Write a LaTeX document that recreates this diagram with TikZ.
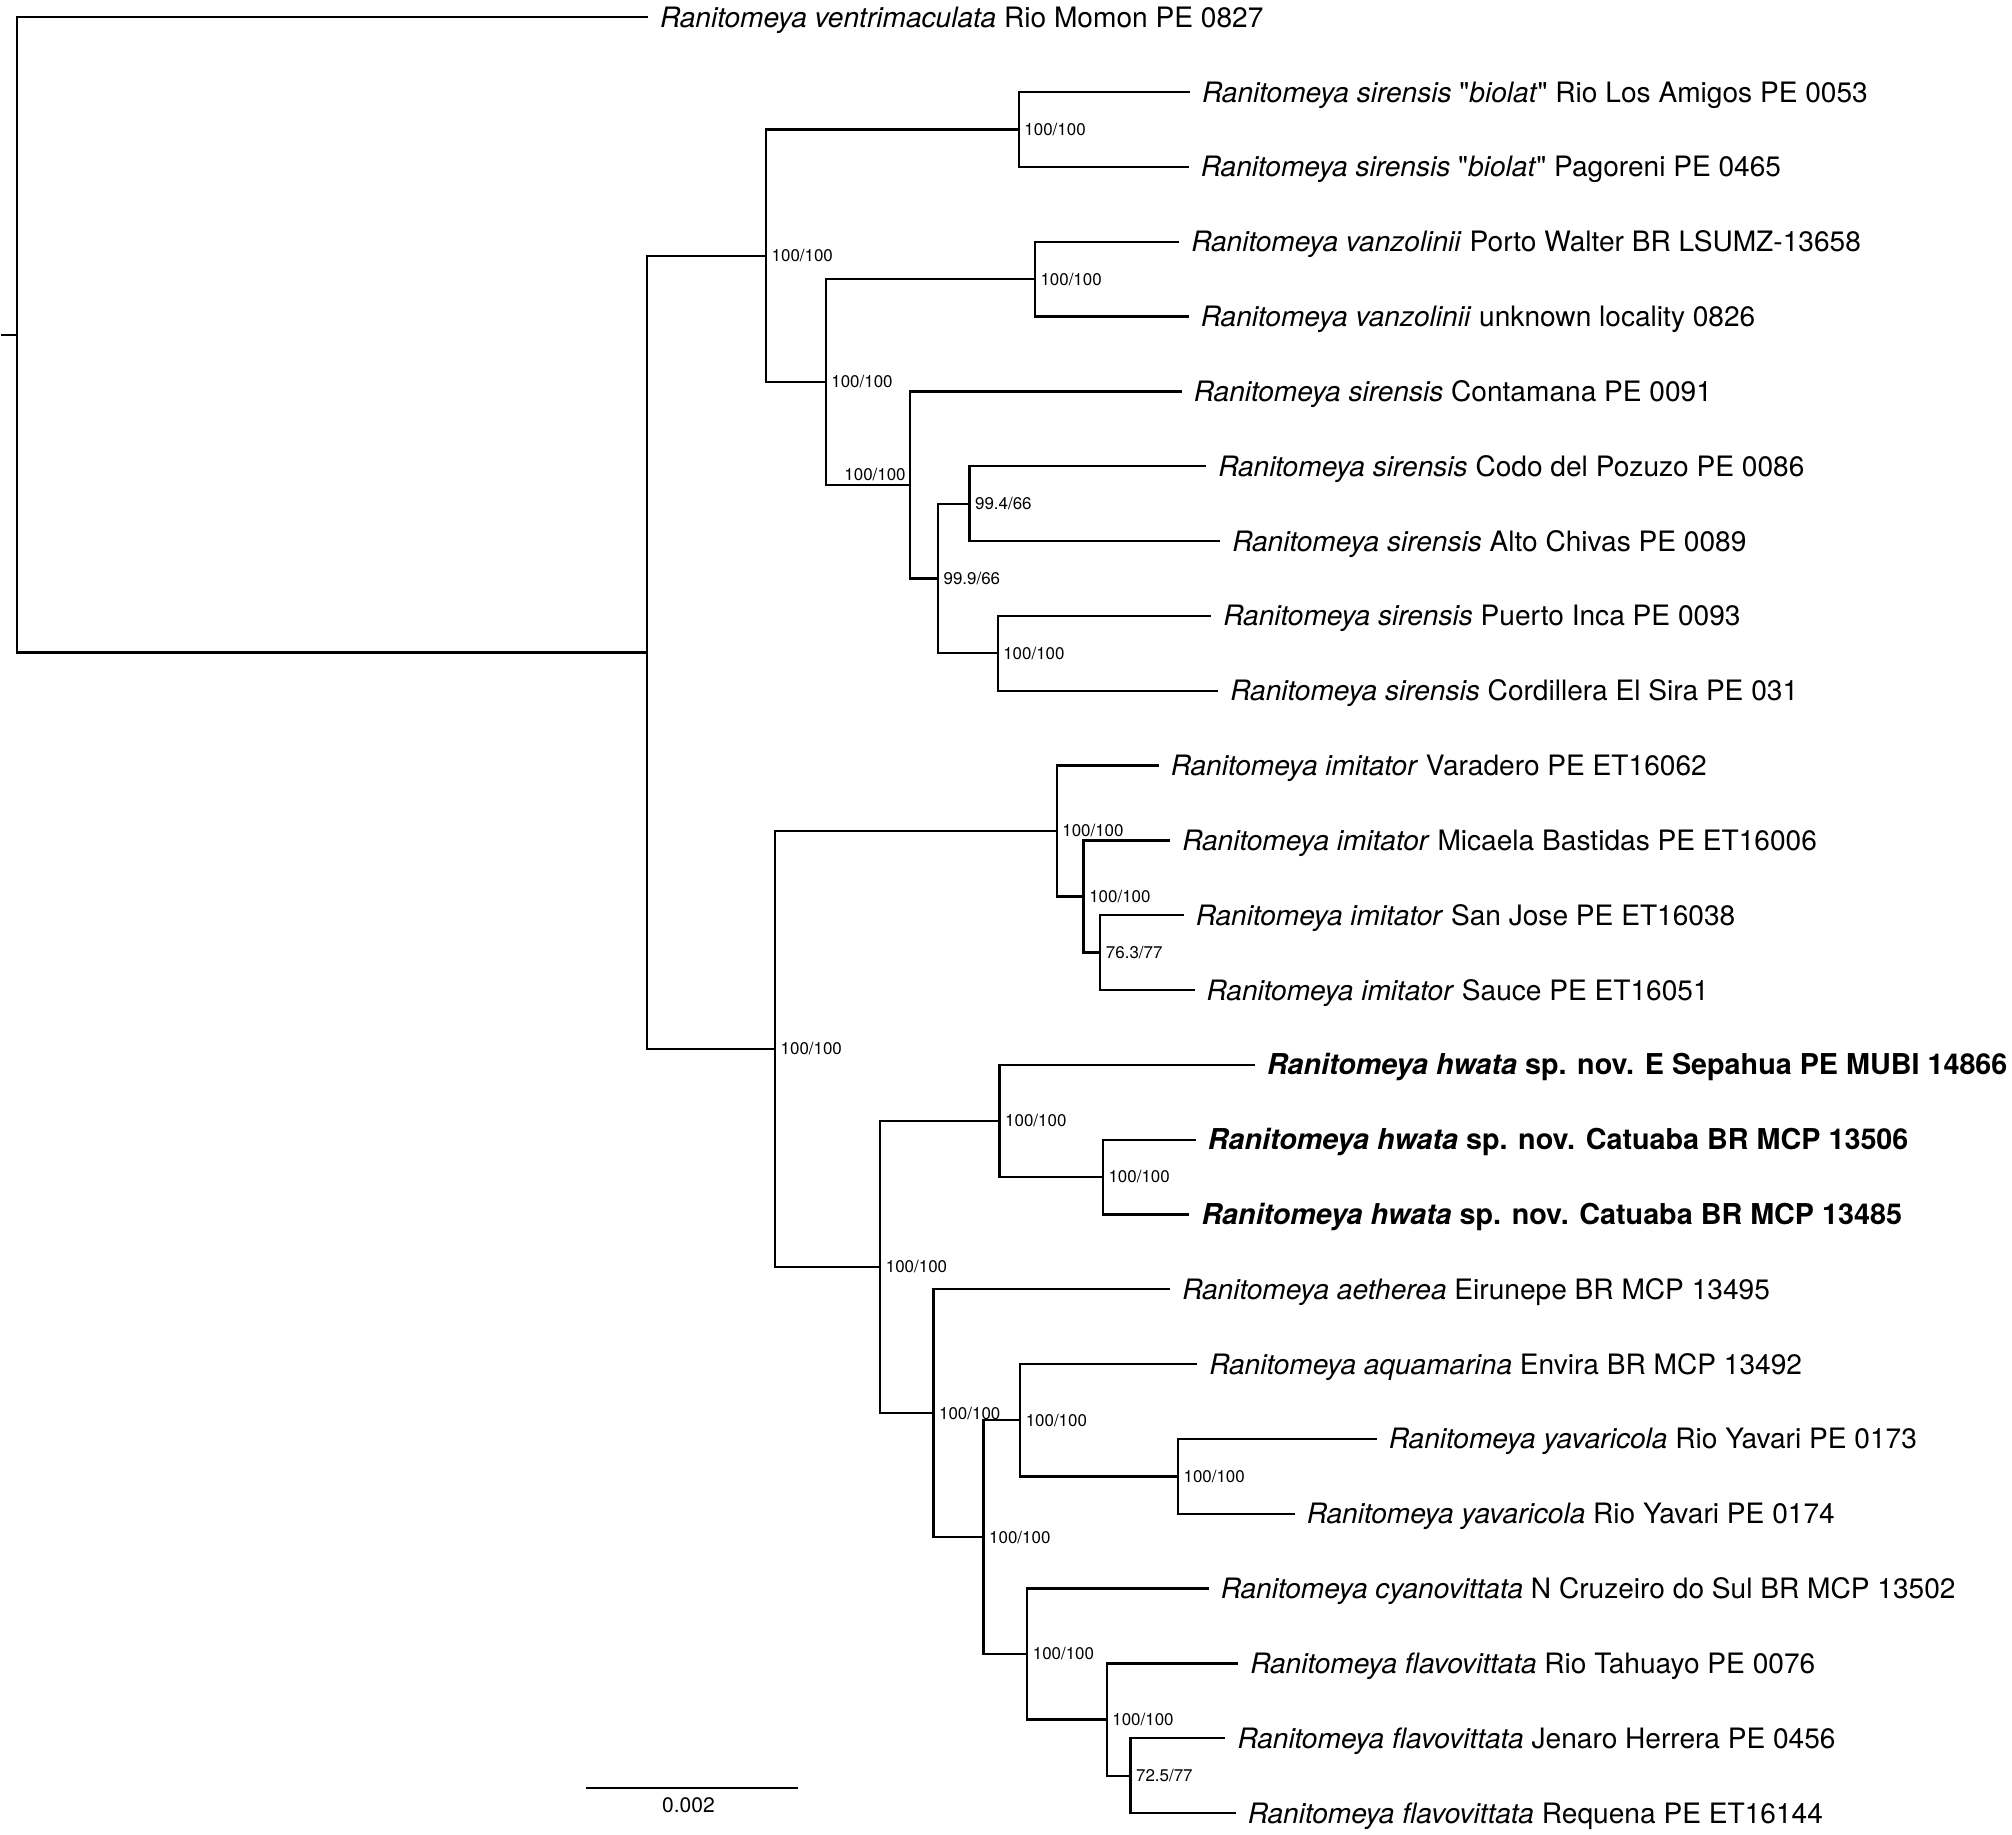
\documentclass[tikz,border=0pt]{standalone}
\usepackage{fontspec}
\setmainfont{TeX Gyre Heros}[Ligatures=TeXOff]
\begin{document}
\begin{tikzpicture}[x=0.5pt,y=-0.5pt,
  branch/.style={line width=0.9pt, line cap=rect},
  leaflbl/.style={anchor=base west, inner sep=0pt, yshift=-3.9pt, font=\fontsize{10.95}{12}\selectfont},
  hwlbl/.style={leaflbl, font=\fontsize{11.2}{12}\selectfont\bfseries},
  suplbl/.style={anchor=base west, inner sep=0pt, xshift=2pt, yshift=-2.3pt, font=\fontsize{6.6}{8}\selectfont},
  scalelbl/.style={anchor=base, inner sep=0pt, font=\fontsize{8.2}{10}\selectfont}]
\useasboundingbox (0,0) rectangle (1568,1430);
% ---- leaf tips
\coordinate (t1) at (504,13.5);
\coordinate (t2) at (926.5,71.81);
\coordinate (t3) at (925.5,130.12);
\coordinate (t4) at (918,188.43);
\coordinate (t5) at (925.5,246.74);
\coordinate (t6) at (920,305.05);
\coordinate (t7) at (939,363.36);
\coordinate (t8) at (950,421.67);
\coordinate (t9) at (943,479.98);
\coordinate (t10) at (948.5,538.29);
\coordinate (t11) at (902,596.6);
\coordinate (t12) at (911,654.91);
\coordinate (t13) at (921.5,713.22);
\coordinate (t14) at (930,771.53);
\coordinate (t15) at (977,829.84);
\coordinate (t16) at (931,888.15);
\coordinate (t17) at (926,946.46);
\coordinate (t18) at (911,1004.77);
\coordinate (t19) at (932,1063.08);
\coordinate (t20) at (1072,1121.39);
\coordinate (t21) at (1008,1179.7);
\coordinate (t22) at (941,1238.01);
\coordinate (t23) at (964,1296.32);
\coordinate (t24) at (954,1354.63);
\coordinate (t25) at (962,1412.94);
% ---- internal nodes
\coordinate (stub) at (1.7,260.98);
\coordinate (R) at (13,260.98);
\coordinate (A) at (504,508.46);
\coordinate (B) at (597,199.37);
\coordinate (C) at (794,100.97);
\coordinate (D) at (643.5,297.77);
\coordinate (E) at (806.5,217.59);
\coordinate (F) at (709,377.94);
\coordinate (G) at (731,450.83);
\coordinate (H) at (755.5,392.52);
\coordinate (I) at (777.5,509.14);
\coordinate (M) at (604,817.54);
\coordinate (J) at (823.5,647.62);
\coordinate (K) at (844.5,698.65);
\coordinate (L) at (857.5,742.38);
\coordinate (P) at (686,987.46);
\coordinate (N) at (779,873.58);
\coordinate (O) at (859.5,917.31);
\coordinate (Q) at (727.5,1101.35);
\coordinate (X) at (766.5,1197.92);
\coordinate (S) at (795,1106.81);
\coordinate (T) at (918,1150.55);
\coordinate (U) at (800.5,1289.03);
\coordinate (V) at (862.5,1340.05);
\coordinate (W) at (881,1383.79);
% ---- branches
\draw[branch] (stub) -- (R);
\draw[branch] (t1) -| (R) |- (A);
\draw[branch] (B) -| (A) |- (M);
\draw[branch] (C) -| (B) |- (D);
\draw[branch] (t2) -| (C) |- (t3);
\draw[branch] (E) -| (D) |- (F);
\draw[branch] (t4) -| (E) |- (t5);
\draw[branch] (t6) -| (F) |- (G);
\draw[branch] (H) -| (G) |- (I);
\draw[branch] (t7) -| (H) |- (t8);
\draw[branch] (t9) -| (I) |- (t10);
\draw[branch] (J) -| (M) |- (P);
\draw[branch] (t11) -| (J) |- (K);
\draw[branch] (t12) -| (K) |- (L);
\draw[branch] (t13) -| (L) |- (t14);
\draw[branch] (N) -| (P) |- (Q);
\draw[branch] (t15) -| (N) |- (O);
\draw[branch] (t16) -| (O) |- (t17);
\draw[branch] (t18) -| (Q) |- (X);
\draw[branch] (S) -| (X) |- (U);
\draw[branch] (t19) -| (S) |- (T);
\draw[branch] (t20) -| (T) |- (t21);
\draw[branch] (t22) -| (U) |- (V);
\draw[branch] (t23) -| (V) |- (W);
\draw[branch] (t24) -| (W) |- (t25);
% ---- leaf labels
\node[leaflbl] (l1) at ([xshift=5pt]t1) {\textit{Ranitomeya ventrimaculata} Rio Momon PE 0827};
\node[leaflbl] (l2) at ([xshift=5pt]t2) {\textit{Ranitomeya sirensis} "\textit{biolat}" Rio Los Amigos PE 0053};
\node[leaflbl] (l3) at ([xshift=5pt]t3) {\textit{Ranitomeya sirensis} "\textit{biolat}" Pagoreni PE 0465};
\node[leaflbl] (l4) at ([xshift=5pt]t4) {\textit{Ranitomeya vanzolinii} Porto Walter BR LSUMZ-13658};
\node[leaflbl] (l5) at ([xshift=5pt]t5) {\textit{Ranitomeya vanzolinii} unknown locality 0826};
\node[leaflbl] (l6) at ([xshift=5pt]t6) {\textit{Ranitomeya sirensis} Contamana PE 0091};
\node[leaflbl] (l7) at ([xshift=5pt]t7) {\textit{Ranitomeya sirensis} Codo del Pozuzo PE 0086};
\node[leaflbl] (l8) at ([xshift=5pt]t8) {\textit{Ranitomeya sirensis} Alto Chivas PE 0089};
\node[leaflbl] (l9) at ([xshift=5pt]t9) {\textit{Ranitomeya sirensis} Puerto Inca PE 0093};
\node[leaflbl] (l10) at ([xshift=5pt]t10) {\textit{Ranitomeya sirensis} Cordillera El Sira PE 031};
\node[leaflbl] (l11) at ([xshift=5pt]t11) {\textit{Ranitomeya imitator} Varadero PE ET16062};
\node[leaflbl] (l12) at ([xshift=5pt]t12) {\textit{Ranitomeya imitator} Micaela Bastidas PE ET16006};
\node[leaflbl] (l13) at ([xshift=5pt]t13) {\textit{Ranitomeya imitator} San Jose PE ET16038};
\node[leaflbl] (l14) at ([xshift=5pt]t14) {\textit{Ranitomeya imitator} Sauce PE ET16051};
\node[hwlbl] (l15) at ([xshift=5pt]t15) {\textit{Ranitomeya hwata} sp. nov. E Sepahua PE MUBI 14866};
\node[hwlbl] (l16) at ([xshift=5pt]t16) {\textit{Ranitomeya hwata} sp. nov. Catuaba BR MCP 13506};
\node[hwlbl] (l17) at ([xshift=5pt]t17) {\textit{Ranitomeya hwata} sp. nov. Catuaba BR MCP 13485};
\node[leaflbl] (l18) at ([xshift=5pt]t18) {\textit{Ranitomeya aetherea} Eirunepe BR MCP 13495};
\node[leaflbl] (l19) at ([xshift=5pt]t19) {\textit{Ranitomeya aquamarina} Envira BR MCP 13492};
\node[leaflbl] (l20) at ([xshift=5pt]t20) {\textit{Ranitomeya yavaricola} Rio Yavari PE 0173};
\node[leaflbl] (l21) at ([xshift=5pt]t21) {\textit{Ranitomeya yavaricola} Rio Yavari PE 0174};
\node[leaflbl] (l22) at ([xshift=5pt]t22) {\textit{Ranitomeya cyanovittata} N Cruzeiro do Sul BR MCP 13502};
\node[leaflbl] (l23) at ([xshift=5pt]t23) {\textit{Ranitomeya flavovittata} Rio Tahuayo PE 0076};
\node[leaflbl] (l24) at ([xshift=5pt]t24) {\textit{Ranitomeya flavovittata} Jenaro Herrera PE 0456};
\node[leaflbl] (l25) at ([xshift=5pt]t25) {\textit{Ranitomeya flavovittata} Requena PE ET16144};
% ---- support labels
\node[suplbl] (sB) at (B) {100/100};
\node[suplbl] (sC) at (C) {100/100};
\node[suplbl] (sD) at (D) {100/100};
\node[suplbl] (sE) at (E) {100/100};
\node[anchor=base east, inner sep=0pt, xshift=-1.4pt, yshift=1.7pt, font=\fontsize{6.6}{8}\selectfont] (sF) at (F) {100/100};
\node[suplbl] (sG) at (G) {99.9/66};
\node[suplbl] (sH) at (H) {99.4/66};
\node[suplbl] (sI) at (I) {100/100};
\node[suplbl] (sM) at (M) {100/100};
\node[suplbl] (sJ) at (J) {100/100};
\node[suplbl] (sK) at (K) {100/100};
\node[suplbl] (sL) at (L) {76.3/77};
\node[suplbl] (sP) at (P) {100/100};
\node[suplbl] (sN) at (N) {100/100};
\node[suplbl] (sO) at (O) {100/100};
\node[suplbl] (sQ) at (Q) {100/100};
\node[suplbl] (sX) at (X) {100/100};
\node[suplbl] (sS) at (S) {100/100};
\node[suplbl] (sT) at (T) {100/100};
\node[suplbl] (sU) at (U) {100/100};
\node[suplbl] (sV) at (V) {100/100};
\node[suplbl] (sW) at (W) {72.5/77};
% ---- scale bar
\coordinate (sb1) at (456.5,1393.5);
\coordinate (sb2) at (622,1393.5);
\draw[branch, line cap=butt] (sb1) -- (sb2);
\node[scalelbl] (sbl) at (536.5,1412.4) {0.002};
\end{tikzpicture}
\end{document}
